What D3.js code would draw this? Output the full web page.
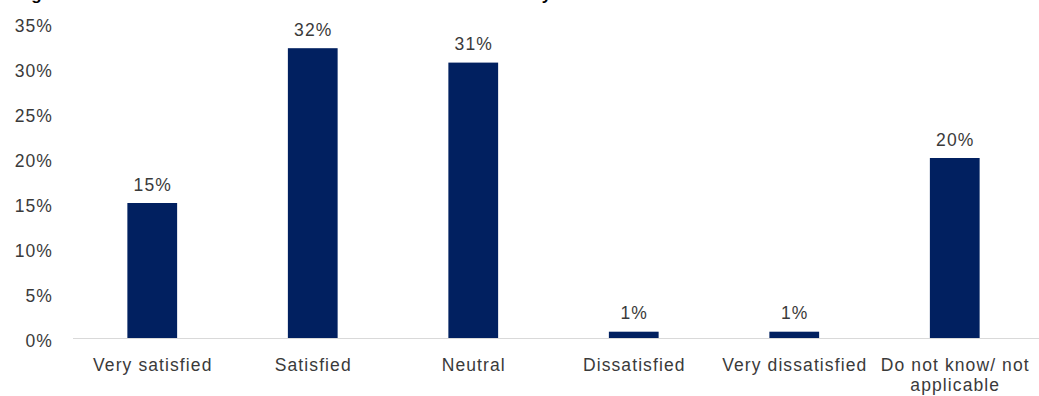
<!DOCTYPE html>
<html>
<head>
<meta charset="utf-8">
<script src="https://cdn.jsdelivr.net/npm/d3@7"></script>
<style>
  html, body { margin: 0; padding: 0; background: #ffffff; }
  svg { display: block; }
  .lbl { font-family: "Liberation Sans", Arial, sans-serif; font-size: 17.5px; letter-spacing: 1.1px; fill: #3a3a3a; }
  .ttl { font-family: "Liberation Sans", Arial, sans-serif; font-size: 17px; font-weight: bold; letter-spacing: 1.1px; fill: #000000; }
</style>
</head>
<body>
<script>
const titleText = "Figure 5: Satisfaction with the overall services received by members";
const categories = ["Very satisfied", "Satisfied", "Neutral", "Dissatisfied", "Very dissatisfied", "Do not know/ not applicable"];
const values = [15.0, 32.2, 30.6, 0.7, 0.7, 20.0];
const yTicks = [0, 5, 10, 15, 20, 25, 30, 35];

const W = 1039, H = 396;
const svg = d3.select("body").append("svg").attr("width", W).attr("height", H);

// clipped title (only descenders visible in the reference)
svg.append("text").attr("class", "ttl").attr("x", 14).attr("y", -0.5).text(titleText);

const x = d3.scaleBand().domain(categories).range([72, 1035]).paddingInner(0.69).paddingOuter(0.345);
const y = d3.scaleLinear().domain([0, 35]).range([338, 23]);

// y-axis labels
svg.append("g").selectAll("text").data(yTicks).join("text")
  .attr("class", "lbl")
  .attr("x", 53)
  .attr("y", d => y(d) + 2.5)
  .attr("dy", "0.35em")
  .attr("text-anchor", "end")
  .text(d => d + "%");

// bars
svg.append("g").selectAll("rect").data(values).join("rect")
  .attr("x", (d, i) => x(categories[i]))
  .attr("y", d => y(d))
  .attr("width", x.bandwidth())
  .attr("height", d => y(0) - y(d))
  .attr("fill", "#012060");

// baseline
svg.append("line")
  .attr("x1", 73).attr("x2", W)
  .attr("y1", y(0) + 0.5).attr("y2", y(0) + 0.5)
  .attr("stroke", "#d9d9d9").attr("stroke-width", 1.2);

// data labels
svg.append("g").selectAll("text").data(values).join("text")
  .attr("class", "lbl")
  .attr("x", (d, i) => x(categories[i]) + x.bandwidth() / 2 + 0.5)
  .attr("y", d => y(d) - 12.5)
  .attr("text-anchor", "middle")
  .text(d => Math.round(d) + "%");

// category labels with wrapping
const maxW = x.step() + 2;
svg.append("g").selectAll("text").data(categories).join("text")
  .attr("class", "lbl")
  .attr("text-anchor", "middle")
  .attr("x", d => x(d) + x.bandwidth() / 2 + 0.5)
  .attr("y", 370.5)
  .each(function(d) {
    const t = d3.select(this);
    const words = d.split(" ");
    const cx = +t.attr("x");
    let line = [];
    let ts = t.append("tspan").attr("x", cx).attr("dy", 0);
    words.forEach(w => {
      line.push(w);
      ts.text(line.join(" "));
      if (ts.node().getComputedTextLength() > maxW && line.length > 1) {
        line.pop();
        ts.text(line.join(" "));
        line = [w];
        ts = t.append("tspan").attr("x", cx).attr("dy", 20.5).text(w);
      }
    });
  });
</script>
</body>
</html>
